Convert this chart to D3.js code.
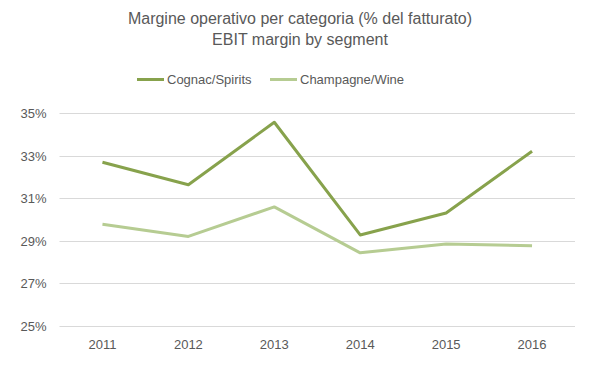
<!DOCTYPE html>
<html>
<head>
<meta charset="utf-8">
<script src="https://cdn.jsdelivr.net/npm/d3@7"></script>
<style>
  body { margin: 0; background: #fff; }
  text { font-family: "Liberation Sans Narrow", "Liberation Sans", sans-serif; fill: #595959; }
</style>
</head>
<body>
<div id="chart"></div>
<script>
// data
var years = ["2011", "2012", "2013", "2014", "2015", "2016"];
var cognac = [32.70, 31.64, 34.58, 29.28, 30.31, 33.22];
var champagne = [29.78, 29.21, 30.60, 28.44, 28.86, 28.77];
var yTicks = [25, 27, 29, 31, 33, 35];
var seriesNames = ["Cognac/Spirits", "Champagne/Wine"];
var colors = ["#87a24c", "#b6cc92"];

var w = 599, h = 378;
var svg = d3.select("#chart").append("svg")
    .attr("width", w).attr("height", h);

// scales
var x = d3.scaleBand().domain(years).range([59.5, 575]);
var y = d3.scaleLinear().domain([25, 35]).range([326, 113.3]);

// title
svg.append("text").attr("x", 300).attr("y", 24)
    .attr("text-anchor", "middle").style("font-size", "16px")
    .text("Margine operativo per categoria (% del fatturato)");
svg.append("text").attr("x", 300).attr("y", 45)
    .attr("text-anchor", "middle").style("font-size", "16px")
    .text("EBIT margin by segment");

// gridlines
svg.append("g").selectAll("line")
    .data(yTicks).enter().append("line")
    .attr("x1", 59.5).attr("x2", 575)
    .attr("y1", d => Math.round(y(d)) + 0.5).attr("y2", d => Math.round(y(d)) + 0.5)
    .attr("stroke", "#d9d9d9").attr("stroke-width", 1);

// y axis labels
var yAxis = d3.axisLeft(y).tickValues(yTicks).tickFormat(d => d + "%").tickSize(0).tickPadding(13);
var gy = svg.append("g").attr("transform", "translate(59.5,0)").call(yAxis);
gy.select(".domain").remove();
gy.selectAll("text").style("font-size", "13px").style("font-family", null);

// x axis labels
var xAxis = d3.axisBottom(x).tickSize(0).tickPadding(14);
var gx = svg.append("g").attr("transform", "translate(0,326)").call(xAxis);
gx.select(".domain").remove();
gx.selectAll("text").style("font-size", "13px").style("font-family", null);

// lines
var line = d3.line()
    .x((d, i) => x(years[i]) + x.bandwidth() / 2)
    .y(d => y(d));

[cognac, champagne].forEach(function(s, i) {
    svg.append("path")
        .datum(s)
        .attr("d", line)
        .attr("fill", "none")
        .attr("stroke", colors[i])
        .attr("stroke-width", 3)
        .attr("stroke-linejoin", "round");
});

// legend
var legX = [137, 270];
seriesNames.forEach(function(n, i) {
    svg.append("line")
        .attr("x1", legX[i]).attr("x2", legX[i] + 27)
        .attr("y1", 79.5).attr("y2", 79.5)
        .attr("stroke", colors[i]).attr("stroke-width", 3);
    svg.append("text")
        .attr("x", legX[i] + 30).attr("y", 84)
        .style("font-size", "13px")
        .text(n);
});
</script>
</body>
</html>
